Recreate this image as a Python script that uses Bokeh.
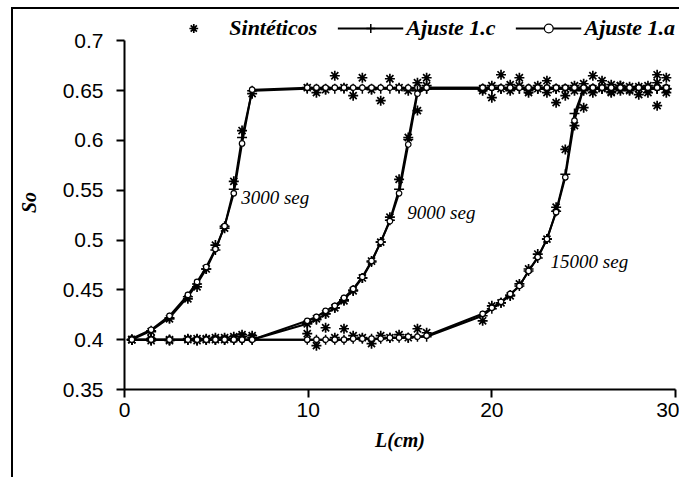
from bokeh.plotting import figure
from bokeh.models import Range1d, FixedTicker, Legend, LegendItem, Label, ColumnDataSource
from bokeh.embed import file_html
from bokeh.resources import INLINE

# ---------------- data ----------------
x_pos = [0.4, 1.45, 2.45, 3.45, 3.95, 4.45, 4.95, 5.45, 5.95, 6.4, 6.95,
         9.95, 10.45, 10.95, 11.45, 11.95, 12.45, 12.95, 13.45, 13.95, 14.45, 14.95, 15.45, 15.95, 16.45,
         19.5, 20.0, 20.5, 21.0, 21.5, 22.0, 22.5, 23.0, 23.5, 24.0, 24.5,
         25.0, 25.5, 26.0, 26.5, 27.0, 27.5, 28.0, 28.5, 29.0, 29.5]

# 3000 seg
syn_3000 = [0.400, 0.408, 0.421, 0.441, 0.453, 0.471, 0.495, 0.512, 0.559, 0.610, 0.647,
            0.653, 0.648, 0.651, 0.665, 0.653, 0.645, 0.663, 0.651, 0.640, 0.662, 0.653, 0.650, 0.658, 0.663,
            0.652, 0.655, 0.666, 0.650, 0.655, 0.648, 0.652, 0.660, 0.638, 0.652, 0.655,
            0.650, 0.665, 0.652, 0.648, 0.655, 0.650, 0.646, 0.652, 0.666, 0.663]
fit_c_3000 = [0.400, 0.409, 0.422, 0.443, 0.456, 0.471, 0.490, 0.514, 0.551, 0.603, 0.650,
              0.652, 0.652, 0.652, 0.652, 0.652, 0.652, 0.652, 0.652, 0.652, 0.652, 0.652, 0.652, 0.652, 0.652,
              0.652, 0.652, 0.652, 0.652, 0.652, 0.652, 0.652, 0.652, 0.652, 0.652, 0.652,
              0.652, 0.652, 0.652, 0.652, 0.652, 0.652, 0.652, 0.652, 0.652, 0.652]
fit_a_3000 = [0.401, 0.410, 0.424, 0.445, 0.458, 0.473, 0.491, 0.514, 0.547, 0.597, 0.651,
              0.653, 0.653, 0.653, 0.653, 0.653, 0.653, 0.653, 0.653, 0.653, 0.653, 0.653, 0.653, 0.653, 0.653,
              0.653, 0.653, 0.653, 0.653, 0.653, 0.653, 0.653, 0.653, 0.653, 0.653, 0.653,
              0.653, 0.653, 0.653, 0.653, 0.653, 0.653, 0.653, 0.653, 0.653, 0.653]

# 9000 seg
syn_9000 = [0.400, 0.399, 0.400, 0.401, 0.399, 0.401, 0.400, 0.402, 0.403, 0.405, 0.404,
            0.416, 0.421, 0.426, 0.432, 0.439, 0.449, 0.462, 0.479, 0.498, 0.523, 0.561, 0.603, 0.630, 0.655,
            0.650, 0.643, 0.652, 0.656, 0.663, 0.650, 0.655, 0.648, 0.652, 0.645, 0.650,
            0.657, 0.648, 0.653, 0.656, 0.650, 0.654, 0.652, 0.655, 0.635, 0.648]
fit_c_9000 = [0.400, 0.400, 0.400, 0.400, 0.400, 0.400, 0.400, 0.400, 0.400, 0.400, 0.400,
              0.416, 0.420, 0.426, 0.432, 0.440, 0.450, 0.462, 0.478, 0.498, 0.520, 0.551, 0.601, 0.650, 0.652,
              0.652, 0.652, 0.652, 0.652, 0.652, 0.652, 0.652, 0.652, 0.652, 0.652, 0.652,
              0.652, 0.652, 0.652, 0.652, 0.652, 0.652, 0.652, 0.652, 0.652, 0.652]
fit_a_9000 = [0.400, 0.400, 0.400, 0.400, 0.400, 0.400, 0.400, 0.400, 0.400, 0.400, 0.400,
              0.419, 0.423, 0.429, 0.434, 0.442, 0.451, 0.463, 0.479, 0.498, 0.519, 0.547, 0.596, 0.647, 0.653,
              0.653, 0.653, 0.653, 0.653, 0.653, 0.653, 0.653, 0.653, 0.653, 0.653, 0.653,
              0.653, 0.653, 0.653, 0.653, 0.653, 0.653, 0.653, 0.653, 0.653, 0.653]

# 15000 seg
syn_15000 = [0.400, 0.401, 0.399, 0.400, 0.401, 0.400, 0.402, 0.400, 0.401, 0.403, 0.402,
             0.406, 0.394, 0.412, 0.402, 0.411, 0.404, 0.402, 0.396, 0.404, 0.402, 0.405, 0.402, 0.411, 0.407,
             0.419, 0.434, 0.437, 0.444, 0.456, 0.471, 0.486, 0.501, 0.533, 0.591, 0.615,
             0.633, 0.652, 0.660, 0.649, 0.655, 0.651, 0.654, 0.648, 0.658, 0.652]
fit_c_15000 = [0.400, 0.400, 0.400, 0.400, 0.400, 0.400, 0.400, 0.400, 0.400, 0.400, 0.400,
               0.400, 0.400, 0.400, 0.400, 0.400, 0.401, 0.401, 0.401, 0.401, 0.402, 0.402, 0.402, 0.403, 0.403,
               0.424, 0.431, 0.437, 0.445, 0.454, 0.469, 0.482, 0.501, 0.529, 0.566, 0.627,
               0.652, 0.652, 0.652, 0.652, 0.652, 0.652, 0.652, 0.652, 0.652, 0.652]
fit_a_15000 = [0.400, 0.400, 0.400, 0.400, 0.400, 0.400, 0.400, 0.400, 0.400, 0.400, 0.400,
               0.400, 0.400, 0.400, 0.400, 0.400, 0.401, 0.401, 0.401, 0.401, 0.402, 0.402, 0.403, 0.403, 0.404,
               0.426, 0.432, 0.438, 0.446, 0.454, 0.469, 0.483, 0.501, 0.528, 0.563, 0.620,
               0.653, 0.653, 0.653, 0.653, 0.653, 0.653, 0.653, 0.653, 0.653, 0.653]

series_names = ["Sintéticos", "Ajuste 1.c", "Ajuste 1.a"]
curve_labels = ["3000 seg", "9000 seg", "15000 seg"]

x_ticks = [0, 10, 20, 30]
x_tick_labels = ["0", "10", "20", "30"]
y_ticks = [0.35, 0.4, 0.45, 0.5, 0.55, 0.6, 0.65, 0.7]
y_tick_labels = ["0.35", "0.4", "0.45", "0.5", "0.55", "0.6", "0.65", "0.7"]

curves = [
    (syn_3000, fit_c_3000, fit_a_3000),
    (syn_9000, fit_c_9000, fit_a_9000),
    (syn_15000, fit_c_15000, fit_a_15000),
]

# annotation placement (data coords)
label_pos = [(6.35, 0.543), (15.4, 0.528), (23.2, 0.479)]

# ---------------- figure ----------------
# frame extends a little above 0.7 so that the legend (drawn inside the frame) sits above the axis top
p = figure(width=668, height=470, output_backend="svg", toolbar_location=None,
           x_range=Range1d(0, 30), y_range=Range1d(0.35, 0.7255),
           min_border_left=111, min_border_right=6, min_border_top=6, min_border_bottom=90,
           background_fill_color="white", border_fill_color="white")
p.styles = {"border-top": "2px solid black", "border-left": "2px solid black",
            "margin-left": "11px", "margin-top": "7px"}
p.outline_line_color = None
p.xgrid.visible = False
p.ygrid.visible = False

for ax in (p.xaxis[0], p.yaxis[0]):
    ax.axis_line_width = 2
    ax.axis_line_color = "black"
    ax.major_tick_line_width = 2
    ax.major_tick_line_color = "black"
    ax.major_tick_in = 0
    ax.major_tick_out = 8
    ax.minor_tick_in = 0
    ax.minor_tick_out = 0
    ax.major_label_text_font = "Liberation Sans"
    ax.major_label_text_font_size = "21px"
    ax.major_label_text_color = "black"
    ax.axis_label_text_font = "Liberation Serif"
    ax.axis_label_text_font_style = "bold italic"
    ax.axis_label_text_font_size = "20px"
    ax.axis_label_text_color = "black"

p.xaxis.ticker = FixedTicker(ticks=x_ticks)
p.xaxis.major_label_overrides = dict(zip(x_ticks, x_tick_labels))
p.xaxis.axis_label = "L(cm)"
p.xaxis.major_label_standoff = 5
p.xaxis.axis_label_standoff = 9

p.yaxis.ticker = FixedTicker(ticks=y_ticks)
p.yaxis.major_label_overrides = dict(zip(y_ticks, y_tick_labels))
p.yaxis.bounds = (y_ticks[0], y_ticks[-1])
p.yaxis.axis_label = "So"
p.yaxis.major_label_standoff = 13
p.yaxis.axis_label_standoff = 20

legend_refs = None
for syn, fc, fa in curves:
    src = ColumnDataSource(dict(x=x_pos, syn=syn, fc=fc, fa=fa))
    r_syn = p.scatter("x", "syn", source=src, marker="asterisk", size=10,
                      line_color="black", line_width=1.7)
    r_cl = p.line("x", "fc", source=src, line_color="black", line_width=2)
    r_cm = p.scatter("x", "fc", source=src, marker="cross", size=10,
                     line_color="black", line_width=1.5)
    r_al = p.line("x", "fa", source=src, line_color="black", line_width=2)
    r_am = p.scatter("x", "fa", source=src, marker="circle", size=5.5,
                     fill_color="white", line_color="black", line_width=1.2)
    if legend_refs is None:
        legend_refs = ([r_syn], [r_cl, r_cm], [r_al, r_am])

for (lx, ly), txt in zip(label_pos, curve_labels):
    p.add_layout(Label(x=lx, y=ly, text=txt, text_font="Liberation Serif",
                       text_font_style="italic", text_font_size="19px",
                       text_color="black", text_baseline="middle", text_align="left"))

legend = Legend(items=[LegendItem(label=n, renderers=r) for n, r in zip(series_names, legend_refs)],
                location="top_right", orientation="horizontal",
                glyph_width=66, glyph_height=22, label_height=22, label_standoff=3,
                spacing=20, padding=5, margin=0,
                border_line_color=None, background_fill_alpha=0,
                label_text_font="Liberation Serif", label_text_font_style="bold italic",
                label_text_font_size="22px", label_text_color="black")
p.add_layout(legend, "center")

open("out.html", "w").write(file_html(p, INLINE))
